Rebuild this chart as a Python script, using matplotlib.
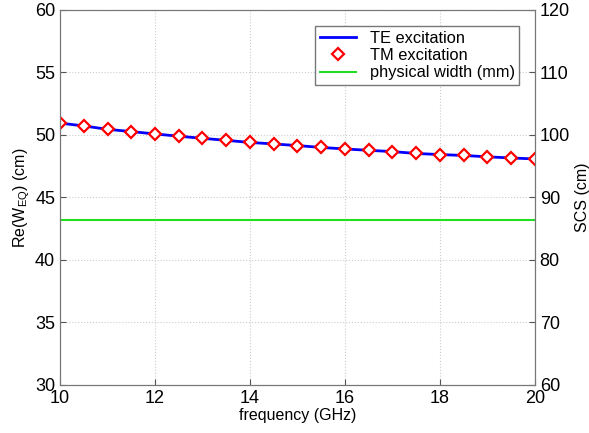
import numpy as np
import matplotlib.pyplot as plt

plt.rcParams['font.family'] = ['Liberation Sans', 'DejaVu Sans']

# frequency (GHz)
freq = [10, 10.5, 11, 11.5, 12, 12.5, 13, 13.5, 14, 14.5, 15,
        15.5, 16, 16.5, 17, 17.5, 18, 18.5, 19, 19.5, 20]
# equivalent width, TE and TM excitation (cm)
w_te = [50.95, 50.72, 50.45, 50.27, 50.08, 49.9, 49.73, 49.57, 49.4, 49.28, 49.15,
        49.0, 48.88, 48.77, 48.67, 48.52, 48.43, 48.36, 48.25, 48.16, 48.08]
w_tm = [50.95, 50.72, 50.45, 50.27, 50.08, 49.9, 49.73, 49.57, 49.4, 49.28, 49.15,
        49.0, 48.88, 48.77, 48.67, 48.52, 48.43, 48.36, 48.25, 48.16, 48.08]
phys_width = 43.2

fig = plt.figure(figsize=(5.89, 4.33), dpi=100)
ax = fig.add_axes([0.102, 0.111, 0.806, 0.866])

ax.plot(freq, w_te, color='blue', lw=2, label='TE excitation')
ax.plot(freq, w_tm, ls='none', marker='D', ms=6, mfc='white', mec='red',
        mew=1.6, label='TM excitation')
ax.plot([freq[0], freq[-1]], [phys_width, phys_width], color='#22dd22', lw=1.5,
        label='physical width (mm)')

ax.set_xlim(10, 20)
ax.set_ylim(30, 60)
ax.set_xticks([10, 12, 14, 16, 18, 20])
ax.set_yticks([30, 35, 40, 45, 50, 55, 60])
ax.grid(True, color='#cccccc', ls=':', lw=0.8)
ax.tick_params(direction='in', labelsize=13, length=4, color='#555555')
for s in ax.spines.values():
    s.set_color('#777777')
ax.set_xlabel('frequency (GHz)', fontsize=11.5, labelpad=1)
ax.set_ylabel('Re(W$_{\\mathregular{EQ}}$) (cm)', fontsize=11.5, labelpad=2)

ax2 = ax.twinx()
ax2.set_ylim(60, 120)
ax2.set_yticks([60, 70, 80, 90, 100, 110, 120])
ax2.tick_params(direction='in', labelsize=13, length=4, color='#555555')
for s in ax2.spines.values():
    s.set_color('#777777')
ax2.set_ylabel('SCS (cm)', fontsize=11.5, labelpad=4)

leg = ax.legend(loc='upper right', bbox_to_anchor=(0.985, 0.98), fontsize=11.8,
                fancybox=False, framealpha=1, edgecolor='#777777',
                handlelength=2.2, borderpad=0.3, labelspacing=0.15)

fig.savefig('out.png', dpi=100)
